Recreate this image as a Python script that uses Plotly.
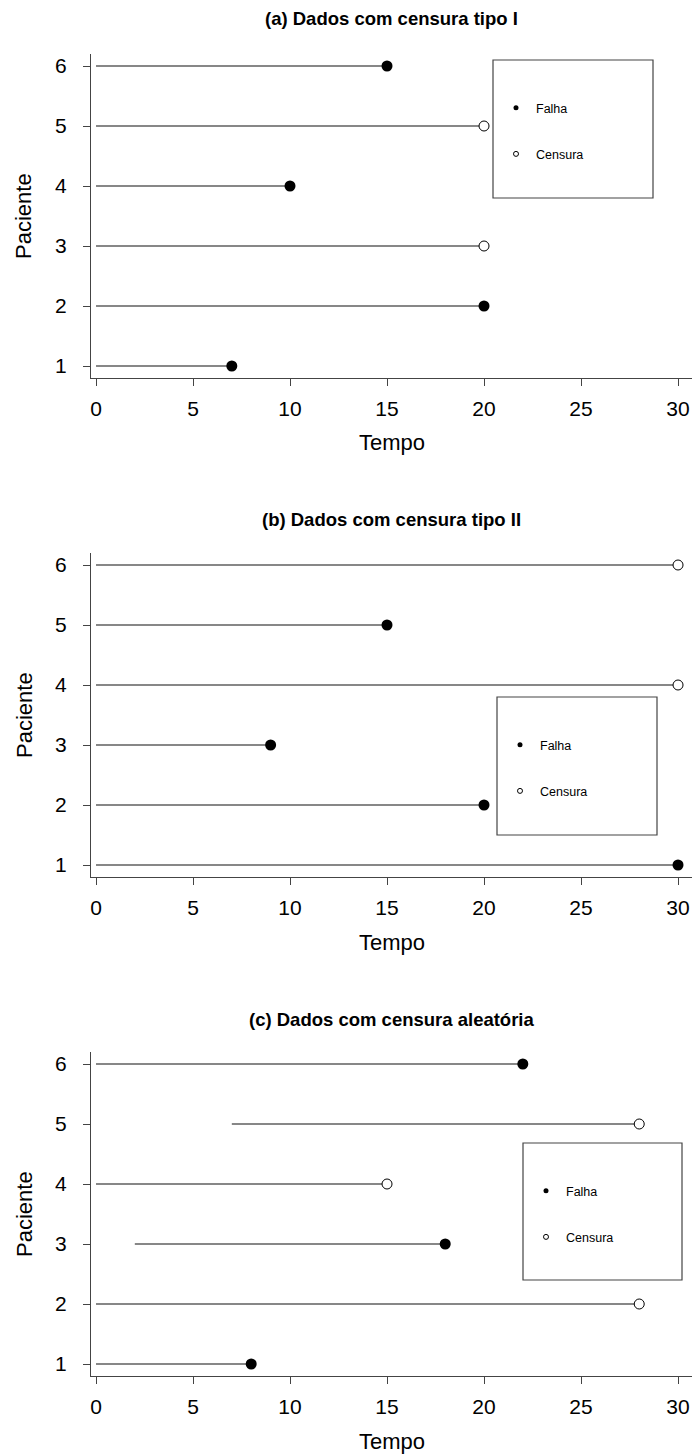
import plotly.graph_objects as go

W, H = 692, 1454
FONT = "Liberation Sans, Arial, sans-serif"

patients = [1, 2, 3, 4, 5, 6]
ytick_labels = ["1", "2", "3", "4", "5", "6"]
xtick_vals = [0, 5, 10, 15, 20, 25, 30]
xtick_labels = ["0", "5", "10", "15", "20", "25", "30"]

# status: 1 = Falha (failure), 0 = Censura (censored)
a_start = [0, 0, 0, 0, 0, 0]
a_end = [7, 20, 20, 10, 20, 15]
a_status = [1, 1, 0, 1, 0, 1]

b_start = [0, 0, 0, 0, 0, 0]
b_end = [30, 20, 9, 30, 15, 30]
b_status = [1, 1, 1, 0, 1, 0]

c_start = [0, 0, 2, 0, 7, 0]
c_end = [8, 28, 18, 15, 28, 22]
c_status = [1, 0, 1, 0, 0, 1]

titles = ["(a) Dados com censura tipo I",
          "(b) Dados com censura tipo II",
          "(c) Dados com censura aleatória"]
legend_names = ["Falha", "Censura"]
x_title = "Tempo"
y_title = "Paciente"

panels = [(a_start, a_end, a_status), (b_start, b_end, b_status), (c_start, c_end, c_status)]

# layout geometry (pixels)
plot_top = [54, 553, 1052]
plot_bot = [378, 877, 1376]
title_y = [19, 520, 1019]
legend_box = [(493, 60, 653, 198), (497, 697, 657, 835), (523, 1143, 682, 1280)]
plot_left = 91

fig = go.Figure()
shapes = []
annotations = []
layout = {}

for i, (st, en, stat) in enumerate(panels):
    sfx = "" if i == 0 else str(i + 1)
    xa, ya = "x" + sfx, "y" + sfx
    leg = "legend" if i == 0 else "legend" + str(i + 1)
    # segments
    xs, ys = [], []
    for p, s, e in zip(patients, st, en):
        xs += [s, e, None]
        ys += [p, p, None]
    fig.add_trace(go.Scatter(x=xs, y=ys, mode="lines", xaxis=xa, yaxis=ya,
                             line=dict(color="#111111", width=1.2),
                             showlegend=False, hoverinfo="skip"))
    fx = [e for e, s in zip(en, stat) if s == 1]
    fy = [p for p, s in zip(patients, stat) if s == 1]
    cx = [e for e, s in zip(en, stat) if s == 0]
    cy = [p for p, s in zip(patients, stat) if s == 0]
    fig.add_trace(go.Scatter(x=fx, y=fy, mode="markers", xaxis=xa, yaxis=ya,
                             marker=dict(size=11, color="black", line=dict(width=0)),
                             showlegend=False, cliponaxis=False))
    fig.add_trace(go.Scatter(x=cx, y=cy, mode="markers", xaxis=xa, yaxis=ya,
                             marker=dict(size=10, color="white", symbol="circle",
                                         line=dict(width=1, color="black")),
                             showlegend=False, cliponaxis=False))
    # legend key traces
    fig.add_trace(go.Scatter(x=[None], y=[None], mode="markers", xaxis=xa, yaxis=ya,
                             name=legend_names[0], legend=leg, legendgroup="f" + str(i),
                             marker=dict(size=5, color="black", line=dict(width=0))))
    fig.add_trace(go.Scatter(x=[None], y=[None], mode="markers", xaxis=xa, yaxis=ya,
                             name=legend_names[1], legend=leg, legendgroup="c" + str(i),
                             marker=dict(size=5, color="white",
                                         line=dict(width=1, color="black"))))

    dom = [1 - plot_bot[i] / H, 1 - plot_top[i] / H]
    axcommon = dict(showline=True, linecolor="#444444", linewidth=1.2,
                    ticks="outside", ticklen=7, tickcolor="#444444", tickwidth=1.2,
                    showgrid=False, zeroline=False,
                    tickfont=dict(family=FONT, size=21, color="black"))
    layout["xaxis" + sfx] = dict(axcommon, domain=[plot_left / W, 1.0], anchor=ya,
                                  range=[-0.258, 30.72], tickmode="array",
                                  tickvals=xtick_vals, ticktext=xtick_labels,
                                  ticklabelstandoff=5)
    layout["yaxis" + sfx] = dict(axcommon, domain=dom, anchor=xa,
                                  range=[0.8, 6.2], tickmode="array",
                                  tickvals=patients, ticktext=ytick_labels,
                                  ticklabelstandoff=12)
    bx0, by0, bx1, by1 = legend_box[i]
    layout[leg] = dict(x=(bx0 + 3) / W, y=1 - (by0 + 33) / H, xanchor="left", yanchor="top",
                       bgcolor="rgba(0,0,0,0)", borderwidth=0,
                       font=dict(family=FONT, size=12.5, color="black"),
                       traceorder="grouped", tracegroupgap=27)
    shapes.append(dict(type="rect", xref="paper", yref="paper",
                       x0=bx0 / W, x1=bx1 / W, y0=1 - by1 / H, y1=1 - by0 / H,
                       line=dict(color="#444444", width=1.2)))
    annotations.append(dict(text="<b>" + titles[i] + "</b>", xref="paper", yref="paper",
                            x=(plot_left + W) / 2 / W, y=1 - title_y[i] / H,
                            showarrow=False, xanchor="center", yanchor="middle",
                            font=dict(family=FONT, size=18.5, color="black")))
    annotations.append(dict(text=x_title, xref="paper", yref="paper",
                            x=(plot_left + W) / 2 / W, y=1 - (plot_bot[i] + 65) / H,
                            showarrow=False, xanchor="center", yanchor="middle",
                            font=dict(family=FONT, size=22, color="black")))
    annotations.append(dict(text=y_title, xref="paper", yref="paper", textangle=-90,
                            x=24 / W, y=1 - (plot_top[i] + plot_bot[i]) / 2 / H,
                            showarrow=False, xanchor="center", yanchor="middle",
                            font=dict(family=FONT, size=22, color="black")))

fig.update_layout(width=W, height=H, margin=dict(l=0, r=0, t=0, b=0),
                  paper_bgcolor="white", plot_bgcolor="white",
                  shapes=shapes, annotations=annotations, **layout)

fig.write_html("out.html")
